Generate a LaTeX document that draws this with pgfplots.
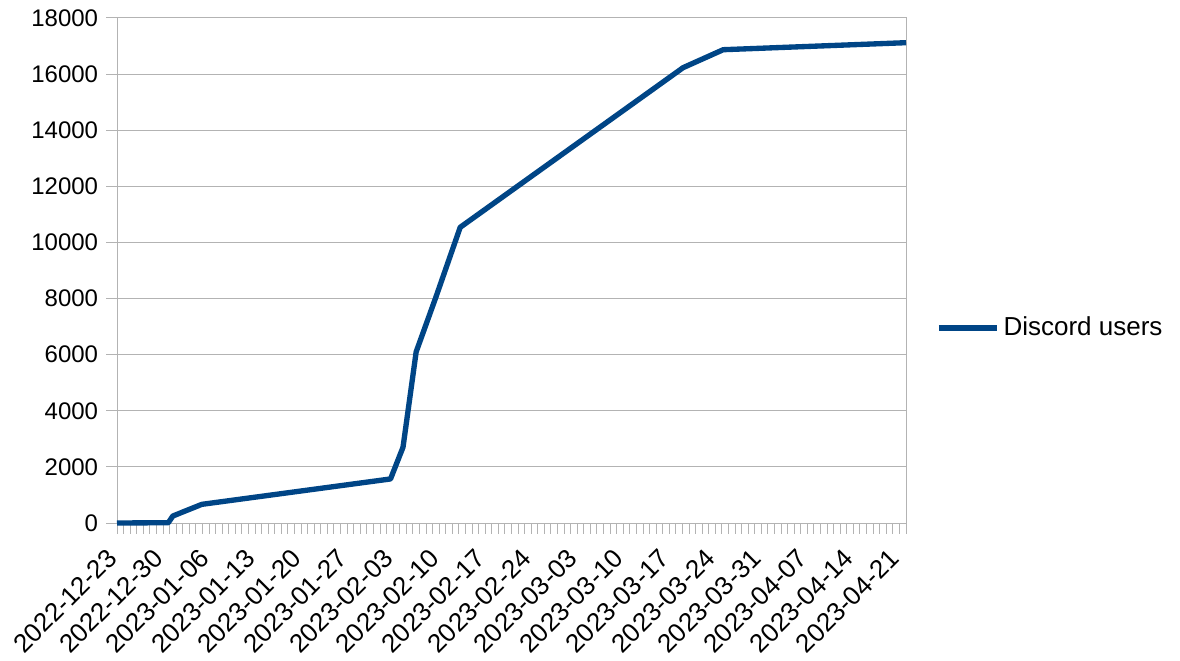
\documentclass[border=0pt]{standalone}
\usepackage{pgfplots}
\pgfplotsset{compat=1.18}
\usepackage{fontspec}
\setmainfont{Liberation Sans}
\definecolor{lineblue}{HTML}{004586}
\definecolor{gridgray}{HTML}{B3B3B3}
\begin{document}
\fontsize{18}{21.6}\selectfont
\begin{tikzpicture}
\useasboundingbox (-87.75pt,-102.75pt) rectangle (797.25pt,392.25pt);
\begin{axis}[
  at={(0pt,0pt)}, anchor=south west,
  scale only axis,
  width=591.75pt, height=378.75pt,
  xmin=0, xmax=120, ymin=0, ymax=18000,
  ytick={0,2000,...,18000},
  xtick={0,7,...,119},
  minor xtick={0,1,...,120},
  xticklabels={2022-12-23,2022-12-30,2023-01-06,2023-01-13,2023-01-20,2023-01-27,2023-02-03,2023-02-10,2023-02-17,2023-02-24,2023-03-03,2023-03-10,2023-03-17,2023-03-24,2023-03-31,2023-04-07,2023-04-14,2023-04-21},
  /pgf/number format/assume math mode=true,
  /pgf/number format/1000 sep={},
  scaled y ticks=false,
  tick align=outside,
  major tick length=8pt, minor tick length=8pt,
  xtick pos=bottom, ytick pos=left,
  tick style={gridgray, line width=0.75pt},
  axis line style={gridgray, line width=0.75pt},
  ymajorgrids, grid style={gridgray, line width=0.75pt},
  yticklabel style={font=\fontsize{18}{21.6}\selectfont, anchor=east, inner sep=0pt, xshift=-6pt},
  xticklabel style={font=\fontsize{19.5}{23}\selectfont, rotate=45, anchor=north east, inner sep=0pt, xshift=-13.2pt, yshift=-1.1pt},
  legend style={draw=none, fill=none, at={(1.038,0.386)}, anchor=west, inner sep=0pt, font=\fontsize{19.5}{23}\selectfont, nodes={inner sep=0pt}, column sep=3pt},
  legend image code/.code={\draw[#1] (0pt,0pt) -- (43.5pt,0pt);},
  clip=false,
]
\addplot[lineblue, line width=4pt, line join=round] coordinates {
(0,0) (7.8,10) (8.5,250) (12.9,665) (41.6,1570) (43.5,2700) (45.5,6100) (48.5,8050) (52.2,10540) (86.1,16230) (92.2,16870) (120,17120)
};
\addlegendentry{Discord users}
\end{axis}
\end{tikzpicture}
\end{document}
